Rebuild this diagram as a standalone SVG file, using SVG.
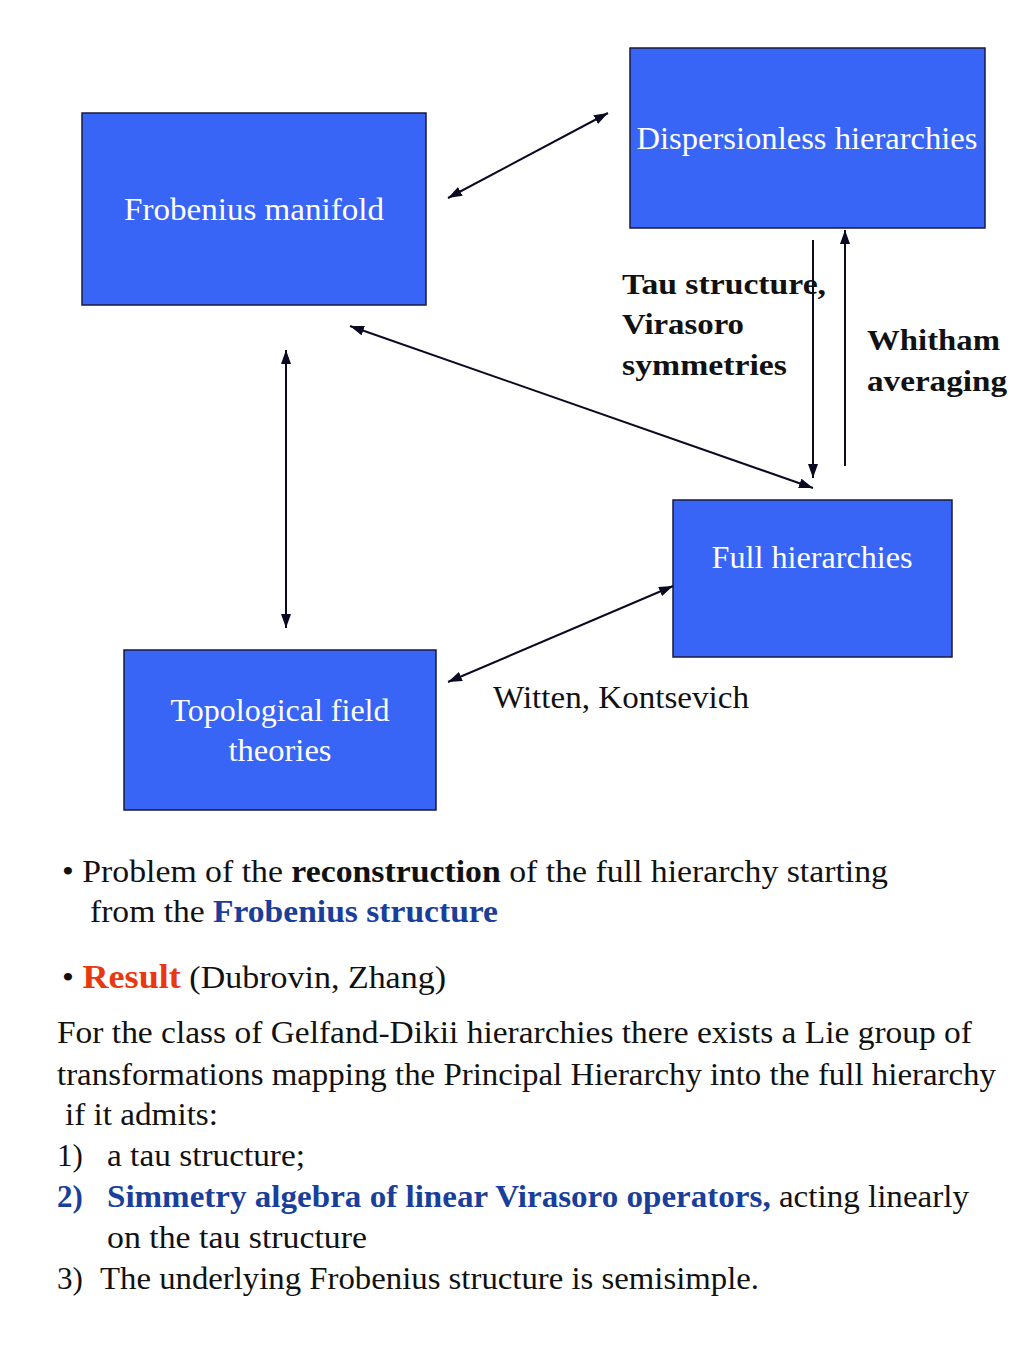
<svg xmlns="http://www.w3.org/2000/svg" width="1024" height="1365" viewBox="0 0 1024 1365">
<style>
.box{fill:#3865f5;stroke:#1a1a40;stroke-width:1.5}
.bt{font-family:"Liberation Serif",serif;font-size:31px;fill:#ffffff;text-anchor:middle}
.t{font-family:"Liberation Serif",serif;font-size:31px;fill:#111111}
.b{font-weight:bold}
.lbl{font-family:"Liberation Serif",serif;font-size:30px;font-weight:bold;fill:#111111}
.c{stroke:#0a0a22;stroke-width:2;fill:none;marker-end:url(#ah);marker-start:url(#ahs)}
.c1{stroke:#0a0a22;stroke-width:2;fill:none;marker-end:url(#ah)}
.blue{fill:#1a3f9a;font-weight:bold}
</style>
<defs>
<marker id="ah" viewBox="0 0 14 10" refX="14" refY="5" markerWidth="14" markerHeight="10" orient="auto" markerUnits="userSpaceOnUse">
<path d="M0,0 L14,5 L0,10 z" fill="#0a0a22"/>
</marker>
<marker id="ahs" viewBox="0 0 14 10" refX="0" refY="5" markerWidth="14" markerHeight="10" orient="auto" markerUnits="userSpaceOnUse">
<path d="M14,0 L0,5 L14,10 z" fill="#0a0a22"/>
</marker>
</defs>
<rect width="1024" height="1365" fill="#ffffff"/>
<g id="frobenius"><rect class="box" x="82" y="113" width="344" height="192"/><text class="bt" x="254" y="220" textLength="260" lengthAdjust="spacingAndGlyphs">Frobenius manifold</text></g>
<g id="dispersionless"><rect class="box" x="630" y="48" width="355" height="180"/><text class="bt" x="807" y="149" textLength="341" lengthAdjust="spacingAndGlyphs">Dispersionless hierarchies</text></g>
<g id="full"><rect class="box" x="673" y="500" width="279" height="157"/><text class="bt" x="812" y="568" textLength="201" lengthAdjust="spacingAndGlyphs">Full hierarchies</text></g>
<g id="tft"><rect class="box" x="124" y="650" width="312" height="160"/><text class="bt" x="280" y="721" textLength="219" lengthAdjust="spacingAndGlyphs">Topological field</text><text class="bt" x="280" y="761" textLength="103" lengthAdjust="spacingAndGlyphs">theories</text></g>
<g id="connectors">
<line class="c" x1="448" y1="198" x2="608" y2="113"/>
<line class="c1" x1="813" y1="240" x2="813" y2="478"/>
<line class="c1" x1="845" y1="466" x2="845" y2="230"/>
<line class="c" x1="350" y1="326" x2="813" y2="488"/>
<line class="c" x1="286" y1="350" x2="286" y2="628"/>
<line class="c" x1="448" y1="682" x2="673" y2="586"/>
</g>
<g id="labels">
<text class="lbl" x="622" y="294" textLength="204" lengthAdjust="spacingAndGlyphs">Tau structure,</text>
<text class="lbl" x="622" y="334" textLength="122" lengthAdjust="spacingAndGlyphs">Virasoro</text>
<text class="lbl" x="622" y="375" textLength="165" lengthAdjust="spacingAndGlyphs">symmetries</text>
<text class="lbl" x="867" y="350" textLength="133" lengthAdjust="spacingAndGlyphs">Whitham</text>
<text class="lbl" x="867" y="391" textLength="140" lengthAdjust="spacingAndGlyphs">averaging</text>
<text class="t" x="493" y="708" textLength="256" lengthAdjust="spacingAndGlyphs">Witten, Kontsevich</text>
</g>
<g id="text">
<text class="t" x="62" y="882" textLength="826" lengthAdjust="spacingAndGlyphs">• Problem of the <tspan class="b">reconstruction</tspan> of the full hierarchy starting</text>
<text class="t" x="90" y="922" textLength="408" lengthAdjust="spacingAndGlyphs">from the <tspan class="blue">Frobenius structure</tspan></text>
<text class="t" x="62" y="988" textLength="384" lengthAdjust="spacingAndGlyphs">• <tspan font-weight="bold" fill="#e8380f" font-size="33">Result</tspan> (Dubrovin, Zhang)</text>
<text class="t" x="57" y="1043" textLength="915" lengthAdjust="spacingAndGlyphs">For the class of Gelfand-Dikii hierarchies there exists a Lie group of</text>
<text class="t" x="57" y="1085" textLength="939" lengthAdjust="spacingAndGlyphs">transformations mapping the Principal Hierarchy into the full hierarchy</text>
<text class="t" x="65" y="1125" textLength="153" lengthAdjust="spacingAndGlyphs">if it admits:</text>
<text class="t" x="57" y="1166">1)</text><text class="t" x="107" y="1166" textLength="198" lengthAdjust="spacingAndGlyphs">a tau structure;</text>
<text class="t" x="57" y="1207"><tspan class="blue">2)</tspan></text>
<text class="t" x="107" y="1207" textLength="862" lengthAdjust="spacingAndGlyphs"><tspan class="blue">Simmetry algebra of linear Virasoro operators,</tspan> acting linearly</text>
<text class="t" x="107" y="1248" textLength="260" lengthAdjust="spacingAndGlyphs">on the tau structure</text>
<text class="t" x="57" y="1289">3)</text>
<text class="t" x="100" y="1289" textLength="659" lengthAdjust="spacingAndGlyphs">The underlying Frobenius structure is semisimple.</text>
</g>
</svg>
